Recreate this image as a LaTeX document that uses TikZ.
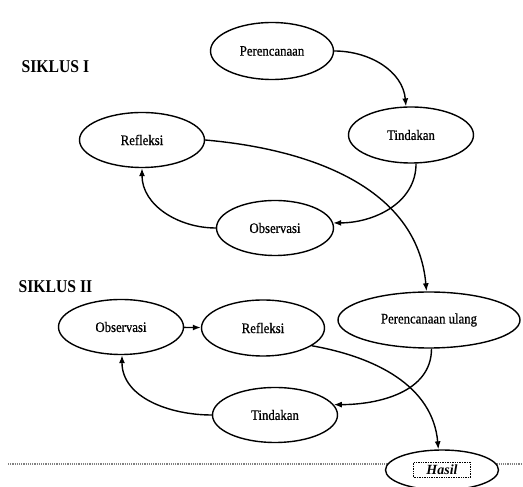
\documentclass[tikz,border=0pt]{standalone}
\usepackage{fontspec}
\setmainfont{Liberation Serif}
\newfontfamily\stagefont[FakeStretch=0.88,FakeBold=0.6]{Liberation Serif}
\newfontfamily\headfont[FakeStretch=0.87]{Liberation Serif}
\usetikzlibrary{shapes.geometric,arrows.meta}

\begin{document}
\begin{tikzpicture}[x=1pt,y=1pt,->,>={Latex[length=8pt,width=6pt]},line width=1.4pt]
    \tikzstyle{stage}=[ellipse,draw,fill=white,minimum width=125pt,minimum height=55pt,inner sep=0pt,font=\stagefont\fontsize{14.5}{16}\selectfont]
    \tikzstyle{heading}=[anchor=west,inner sep=0pt,font=\headfont\fontsize{18}{20}\selectfont\bfseries]
    \tikzstyle{result box}=[draw,densely dotted,line width=0.7pt,minimum width=57pt,minimum height=15pt,inner sep=0pt,font=\fontsize{14}{15}\selectfont\bfseries\itshape]

    \useasboundingbox (0,0) rectangle (523,487);

    % Cycle headings
    \node[heading] (S-1) at (21,420) {SIKLUS I};
    \node[heading] (S-2) at (18,200) {SIKLUS II};

    % Separator line behind the result
    \draw[-,gray,densely dotted,line width=1.2pt] (8,23) -- (523,23);

    % First cycle
    \node[stage,minimum width=123pt,minimum height=57pt] (P-1) at (272,436) {Perencanaan};
    \node[stage,minimum height=56pt] (T-1) at (411,352) {Tindakan};
    \node[stage] (R-1) at (142,347) {Refleksi};
    \node[stage,minimum width=117pt] (O-1) at (275,259) {Observasi};

    % Second cycle
    \node[stage] (O-2) at (121,160) {Observasi};
    \node[stage,minimum width=123pt,minimum height=56pt] (R-2) at (263,159) {Refleksi};
    \node[stage,minimum width=182pt,minimum height=56pt] (P-2) at (429,167) {Perencanaan ulang};
    \node[stage] (T-2) at (275,72) {Tindakan};

    % Result
    \node[stage,minimum width=113pt,minimum height=40pt] (H) at (442,17) {};
    \node[result box] (hasil) at (H) {Hasil};

    % Connect the stages
    \foreach \source/\dest/\o/\i in {P-1.east/T-1.100/0/95, T-1.-80/O-1.5/-90/0,
        O-1.west/R-1.south/180/-90, R-1.east/P-2.95/-5/95,
        P-2.-85/T-2.10/-90/0, T-2.west/O-2.-88/180/-90, R-2.-20/H.100/-10/95}
        \draw (\source) to[out=\o,in=\i] (\dest);

    \draw (O-2) -- (R-2);
\end{tikzpicture}
\end{document}
